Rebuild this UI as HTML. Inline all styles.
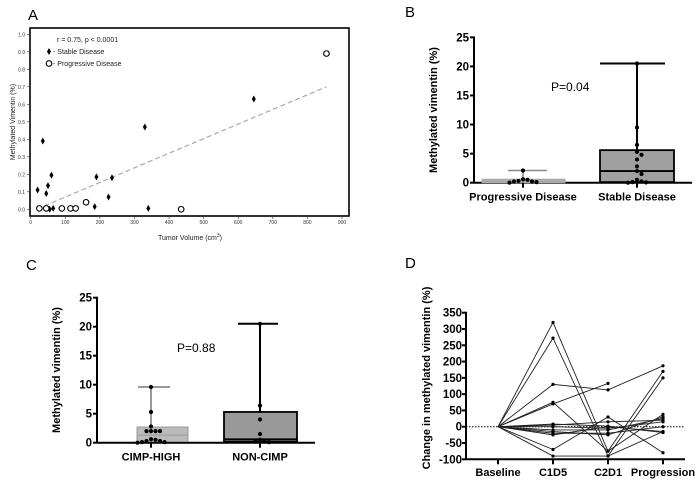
<!DOCTYPE html>
<html><head><meta charset="utf-8"><style>
html,body{margin:0;padding:0;background:#fff;}
svg{display:block;font-family:"Liberation Sans",Arial,sans-serif;}
</style></head><body>
<svg id="fig" width="700" height="483" viewBox="0 0 700 483">
<g id="A"></g>
<g id="B"></g>
<g id="C"></g>
<g id="D"></g>
</svg>
<script>
// Panel A data
const aStableX=[20,35,45,50,55,60,65,185,190,225,235,330,340,645];
const aStableY=[0.11,0.39,0.09,0.135,0.0,0.195,0.005,0.015,0.185,0.07,0.18,0.47,0.005,0.63];
const aProgX=[25,45,90,115,130,160,435,855];
const aProgY=[0.005,0.005,0.005,0.005,0.005,0.04,0.0,0.89];
const aTrendX=[40,855];
const aTrendY=[0.02,0.70];
const aXTicks=[0,100,200,300,400,500,600,700,800,900];
const aYTicks=[0,0.1,0.2,0.3,0.4,0.5,0.6,0.7,0.8,0.9,1.0];
// Panel B data
const bCats=["Progressive Disease","Stable Disease"];
const bMin=[0,0]; const bQ1=[0,0.1]; const bMed=[0.1,2]; const bQ3=[0.6,5.6]; const bMax=[2.1,20.5];
const bPtsProg=[2.1,0.6,0.5,0.3,0.2,0.2,0.1,0.0];
const bPtsStable=[20.5,9.5,6.5,5.3,4.8,4,2.8,2,1.5,0.5,0.2,0.1,0.05,0.0];
const bcYTicks=[0,5,10,15,20,25];
// Panel C data
const cCats=["CIMP-HIGH","NON-CIMP"];
const cMin=[0,0]; const cQ1=[0.2,0.2]; const cMed=[1.3,0.6]; const cQ3=[2.7,5.3]; const cMax=[9.6,20.5];
const cPtsHigh=[9.6,5.3,2.8,2,2,2,2,0.6,0.3,0.1,0,0.1,0.3,0.5];
const cPtsNon=[20.5,6.4,4,1.5,0.5,0.3,0.2,0.1];
// Panel D data
const dCats=["Baseline","C1D5","C2D1","Progression"];
const dYTicks=[-100,-50,0,50,100,150,200,250,300,350];
const dSeries=[
 [0,320,-75,170],[0,272,-90,150],[0,130,113,187],[0,75,-75,38],[0,70,133,null],
 [0,-70,30,-80],[0,-90,-90,-15],[0,5,15,20],[0,-10,-10,25],[0,-20,-20,0],
 [0,-25,0,-15],[0,0,-5,15],[0,-15,-25,30],[0,8,2,-18]];

const NS="http://www.w3.org/2000/svg";
function mk(parent,tag,attrs,text){const e=document.createElementNS(NS,tag);for(const k in attrs)e.setAttribute(k,attrs[k]);if(text!==undefined)e.textContent=text;parent.appendChild(e);return e;}
const FS=11;

// ---------- Panel A ----------
(function(){
const g=document.getElementById('A');
const x=v=>30.7+v*(342-30.7)/900, y=v=>209.3-v*175;
let t=mk(g,'text',{x:28,y:20,'font-size':15},'A');

let r=mk(g,'rect',{x:30,y:28,width:319,height:188,fill:'none',stroke:'#000','stroke-width':1.6});

aYTicks.forEach(v=>{let l=mk(g,'line',{x1:27,x2:30,y1:y(v),y2:y(v),stroke:'#333','stroke-width':0.6});
 
 let tt=mk(g,'text',{x:25,y:y(v)+2,'font-size':5,'text-anchor':'end',fill:'#333'},v.toFixed(1));
 });
aXTicks.forEach(v=>{let l=mk(g,'line',{x1:x(v),x2:x(v),y1:216,y2:219,stroke:'#333','stroke-width':0.6});
 
 let tt=mk(g,'text',{x:x(v),y:224,'font-size':5,'text-anchor':'middle',fill:'#333'},v);
 });
t=mk(g,'text',{x:190,y:240,'font-size':7,'text-anchor':'middle',fill:'#222'},'Tumor Volume (cm');

mk(t,'tspan',{'font-size':5,dy:-3},'3');mk(t,'tspan',{dy:3},')');
t=mk(g,'text',{x:15,y:122,'font-size':7,'text-anchor':'middle',transform:'rotate(-90 15 122)',fill:'#222'},'Methylated Vimentin (%)');

let tl=mk(g,'line',{x1:x(aTrendX[0]),y1:y(aTrendY[0]),x2:x(aTrendX[1]),y2:y(aTrendY[1]),stroke:'#aaa','stroke-width':1.2,'stroke-dasharray':'5,3'});

function dia(cx,cy){let p=mk(g,'path',{d:`M${cx} ${cy-3.5}L${cx+2} ${cy}L${cx} ${cy+3.5}L${cx-2} ${cy}Z`,fill:'#000'});return p;}
aStableX.forEach((v,i)=>{let p=dia(x(v),y(aStableY[i]));});
aProgX.forEach((v,i)=>{let c=mk(g,'circle',{cx:x(v),cy:y(aProgY[i]),r:2.8,fill:'#fff',stroke:'#000','stroke-width':1.1});
 });
t=mk(g,'text',{x:57,y:42,'font-size':7,fill:'#222'},'r = 0.75, p < 0.0001');

let ld=dia(49,51.5);
t=mk(g,'text',{x:53,y:54,'font-size':7,fill:'#222'},'- Stable Disease');

let lc=mk(g,'circle',{cx:49,cy:63.5,r:2.8,fill:'#fff',stroke:'#000','stroke-width':1.1});

t=mk(g,'text',{x:53,y:66,'font-size':7,fill:'#222'},'- Progressive Disease');

})();

// ---------- Box panels ----------
function boxPanel(id,opt){
const g=document.getElementById(id);
const y=v=>opt.y0-v*opt.ppu;
let t=mk(g,'text',{x:opt.lx,y:opt.ly,'font-size':15},opt.label);

let a=mk(g,'line',{x1:opt.ax,x2:opt.ax,y1:y(25)-1,y2:opt.y0,stroke:'#000','stroke-width':2});

a=mk(g,'line',{x1:opt.ax,x2:opt.xend,y1:opt.y0,y2:opt.y0,stroke:'#000','stroke-width':2});

bcYTicks.forEach(v=>{let l=mk(g,'line',{x1:opt.ax-4,x2:opt.ax,y1:y(v),y2:y(v),stroke:'#000','stroke-width':2});
 
 let tt=mk(g,'text',{x:opt.ax-5,y:y(v)+4,'font-size':FS+0.5,'font-weight':'bold','text-anchor':'end'},v);
 });
t=mk(g,'text',{x:opt.tx,y:opt.ty,'font-size':FS,'font-weight':'bold','text-anchor':'middle',transform:`rotate(-90 ${opt.tx} ${opt.ty})`},'Methylated vimentin (%)');

t=mk(g,'text',{x:opt.px,y:opt.py,'font-size':12},opt.pText);

opt.cats.forEach((c,i)=>{
 const b=opt.boxes[i];
 let w=mk(g,'line',{x1:b.c,x2:b.c,y1:y(opt.max[i]),y2:y(opt.q3[i]),stroke:b.ws,'stroke-width':b.ww});
 
 let cap=mk(g,'line',{x1:b.c0,x2:b.c1,y1:y(opt.max[i]),y2:y(opt.max[i]),stroke:b.ws,'stroke-width':b.ww});
 
 let r=mk(g,'rect',{x:b.x0,y:y(opt.q3[i]),width:b.x1-b.x0,height:y(opt.q1[i])-y(opt.q3[i]),fill:b.fill,stroke:b.stroke,'stroke-width':b.sw});
 
 let m=mk(g,'line',{x1:b.x0,x2:b.x1,y1:y(opt.med[i]),y2:y(opt.med[i]),stroke:b.stroke,'stroke-width':b.sw});
 
 let tk=mk(g,'line',{x1:b.c,x2:b.c,y1:opt.y0,y2:opt.y0+5,stroke:'#000','stroke-width':2});
 
 let lab=mk(g,'text',{x:b.c,y:opt.y0+18,'font-size':FS,'font-weight':'bold','text-anchor':'middle'},c);
 
 const pts=opt.pts[i].slice().sort((p,q)=>q-p);
 const used=[];
 pts.forEach(v=>{const py=y(v);let k=0;used.forEach(u=>{if(Math.abs(u-py)<4)k++;});used.push(py);
  const off=(k%2?1:-1)*Math.ceil(k/2)*4.5;
  let d=mk(g,'circle',{cx:b.c+off,cy:py,r:2.1,fill:'#000'});
  });
});
}
boxPanel('B',{label:'B',lx:405,ly:17,ax:474,y0:182.7,ppu:5.814,xend:692,tx:437,ty:110,px:551,py:91,pText:'P=0.04',
 cats:bCats,q1:bQ1,med:bMed,q3:bQ3,max:bMax,pts:[bPtsProg,bPtsStable],
 boxes:[{c:523,x0:482,x1:565,c0:508,c1:547,fill:'#aaa',stroke:'#aaa',sw:1,ws:'#888',ww:1.5},
        {c:637,x0:600,x1:674,c0:600,c1:665,fill:'#a0a0a0',stroke:'#000',sw:1.8,ws:'#000',ww:2}]});
boxPanel('C',{label:'C',lx:26,ly:270,ax:97,y0:442.7,ppu:5.8,xend:315,tx:60,ty:370,px:177,py:352,pText:'P=0.88',
 cats:cCats,q1:cQ1,med:cMed,q3:cQ3,max:cMax,pts:[cPtsHigh,cPtsNon],
 boxes:[{c:151,x0:137,x1:188,c0:138,c1:170,fill:'#bbb',stroke:'#999',sw:1,ws:'#777',ww:1.5},
        {c:260,x0:224,x1:297,c0:238,c1:278,fill:'#999',stroke:'#000',sw:1.8,ws:'#000',ww:2}]});

// ---------- Panel D ----------
(function(){
const g=document.getElementById('D');
const x0=498,dx=55,ax=466,y=v=>459.3-(v+100)*(459.3-312.7)/450;
const x=i=>x0+i*dx;
let t=mk(g,'text',{x:405,y:268,'font-size':15},'D');

let a=mk(g,'line',{x1:ax,x2:ax,y1:y(350)-1,y2:y(-100),stroke:'#000','stroke-width':2});

a=mk(g,'line',{x1:ax,x2:685,y1:y(-100),y2:y(-100),stroke:'#000','stroke-width':2});

let z=mk(g,'line',{x1:ax,x2:685,y1:y(0),y2:y(0),stroke:'#000','stroke-width':1,'stroke-dasharray':'1.5,1.5'});

dYTicks.forEach(v=>{let l=mk(g,'line',{x1:ax-4,x2:ax,y1:y(v),y2:y(v),stroke:'#000','stroke-width':2});
 
 let tt=mk(g,'text',{x:ax-4,y:y(v)+4,'font-size':FS+0.5,'font-weight':'bold','text-anchor':'end'},v);
 });
dCats.forEach((c,i)=>{let l=mk(g,'line',{x1:x(i),x2:x(i),y1:y(-100),y2:y(-100)+5,stroke:'#000','stroke-width':2});
 
 let tt=mk(g,'text',{x:x(i),y:476,'font-size':FS,'font-weight':'bold','text-anchor':'middle'},c);
 });
t=mk(g,'text',{x:430,y:378,'font-size':FS,'font-weight':'bold','text-anchor':'middle',transform:'rotate(-90 430 378)'},'Change in methylated vimentin (%)');

dSeries.forEach(s=>{
 let d='';s.forEach((v,i)=>{if(v===null)return;d+=(d?'L':'M')+x(i)+' '+y(v);});
 let p=mk(g,'path',{d:d,fill:'none',stroke:'#222','stroke-width':0.9});
 
 s.forEach((v,i)=>{if(v===null||i===0)return;let c=mk(g,'circle',{cx:x(i),cy:y(v),r:1.6,fill:'#000'});
  });
});
})();
</script>
</body></html>
